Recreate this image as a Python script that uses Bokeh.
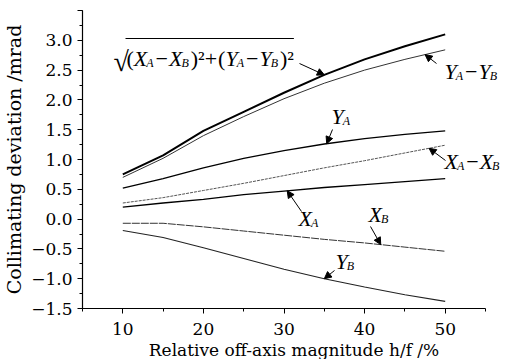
import numpy as np
from bokeh.plotting import figure
from bokeh.models import FixedTicker, Label, Arrow, NormalHead, Range1d, Title
from bokeh.embed import file_html
from bokeh.resources import INLINE

# ---- data ----
h = [10, 15, 20, 25, 30, 35, 40, 45, 50]
total = [0.75, 1.07, 1.48, 1.80, 2.12, 2.42, 2.68, 2.90, 3.10]
ya_yb = [0.70, 1.02, 1.40, 1.72, 2.02, 2.28, 2.50, 2.68, 2.84]
ya = [0.52, 0.68, 0.86, 1.02, 1.15, 1.26, 1.35, 1.42, 1.48]
xa_xb = [0.27, 0.36, 0.48, 0.60, 0.73, 0.86, 0.98, 1.11, 1.24]
xa = [0.20, 0.27, 0.33, 0.41, 0.47, 0.53, 0.58, 0.63, 0.68]
xb = [-0.07, -0.07, -0.13, -0.20, -0.27, -0.34, -0.40, -0.47, -0.54]
yb = [-0.19, -0.31, -0.48, -0.66, -0.84, -1.00, -1.14, -1.27, -1.38]

x_ticks = [10, 20, 30, 40, 50]
y_ticks = [-1.5, -1.0, -0.5, 0.0, 0.5, 1.0, 1.5, 2.0, 2.5, 3.0, 3.5]
y_tick_labels = ["\u22121.5", "\u22121.0", "\u22120.5", "0.0", "0.5", "1.0", "1.5",
                 "2.0", "2.5", "3.0", ""]
x_title = "Relative off-axis magnitude h/f /%"
y_title = "Collimating deviation /mrad"

PXU = 403 / 50.0          # pixels per x unit
XMIN, XAXMAX, YMIN, YMAX = 5, 55, -1.5, 3.5
FW, FH = 423, 298
XMAX = XMIN + FW / PXU
BL, BT, BB = 79, 10, 50
OX, OY = 84, 10           # page position of the frame's top-left corner
TXT_DY = -9               # empirical baseline correction for labels

p = figure(width=BL + FW, height=BT + FH + BB, output_backend="svg",
           toolbar_location=None, x_range=Range1d(XMIN, XMAX),
           y_range=Range1d(YMIN, YMAX), frame_width=FW, frame_height=FH,
           min_border_left=BL, min_border_right=0, min_border_top=BT,
           min_border_bottom=BB)
p.outline_line_color = None
p.grid.visible = False

SERIF = "DejaVu Serif"
for ax in (p.xaxis[0], p.yaxis[0]):
    ax.axis_line_color = "black"
    ax.axis_line_width = 1.2
    ax.major_tick_out = 5
    ax.major_tick_in = 0
    ax.minor_tick_out = 3
    ax.minor_tick_in = 0
    ax.major_label_text_font = SERIF
    ax.major_label_text_font_size = "17px"
    ax.major_label_text_color = "black"
    ax.axis_label_text_font = SERIF
    ax.axis_label_text_font_style = "normal"
    ax.axis_label_text_color = "black"

p.xaxis.bounds = (XMIN, XAXMAX)
p.xaxis.ticker = FixedTicker(ticks=x_ticks, minor_ticks=list(np.arange(5, 56, 5)))
p.yaxis.ticker = FixedTicker(ticks=y_ticks, minor_ticks=list(np.arange(-1.5, 3.51, 0.25)))
p.yaxis.major_label_overrides = {t: l for t, l in zip(y_ticks, y_tick_labels)}
p.yaxis.axis_label = y_title
p.yaxis.axis_label_text_font_size = "19px"
p.xaxis.major_label_standoff = 9
p.yaxis.major_label_standoff = 5
p.yaxis.axis_label_standoff = 3

# x-axis title centred under the drawn axis (5..55), not under the wider frame
p.add_layout(Title(text=x_title, align="center", offset=-10, standoff=0,
                   text_font=SERIF, text_font_size="17px",
                   text_font_style="normal", text_color="black"), "below")

p.line(h, total, line_color="black", line_width=2)
p.line(h, ya_yb, line_color="#333333", line_width=1)
p.line(h, ya, line_color="black", line_width=1.3)
p.line(h, xa_xb, line_color="#555555", line_width=1, line_dash="3 1")
p.line(h, xa, line_color="black", line_width=1.3)
p.line(h, xb, line_color="#333333", line_width=1, line_dash="8 1")
p.line(h, yb, line_color="#222222", line_width=1.1)


# ---- annotations (positions given in page pixels, converted) ----
def d(px, py):
    return (XMIN + (px - OX) / PXU,
            YMAX - (py - OY) * (YMAX - YMIN) / FH)


IT = "Liberation Serif"
MAIN, SUB = 22, 12
W = {"X": 0.611, "Y": 0.556, "(": 0.333, ")": 0.333, "\u2212": 0.564,
     "+": 0.564, "\u00b2": 0.30, "A": 0.611, "B": 0.611, "\u221a": 0.549}


def put(text, px, py, size, italic):
    x, y = d(px, py + TXT_DY)
    p.add_layout(Label(x=x, y=y, text=text, text_font=IT,
                       text_font_size=f"{size}px",
                       text_font_style="italic" if italic else "normal",
                       text_color="black", text_baseline="alphabetic",
                       text_align="left"))


def expr(tokens, px, py):
    cx = px
    for kind, t in tokens:
        if kind == "v":
            put(t, cx, py, MAIN, True)
            cx += W[t] * MAIN
        elif kind == "s":
            put(t, cx - 1, py + 4, SUB, True)
            cx += W[t] * SUB + 1
        else:
            put(t, cx, py, MAIN, False)
            cx += W[t] * MAIN + (1 if t in "\u2212+" else 0)
    return cx


def arrow(sx, sy, tip_x, series):
    x0, y0 = d(sx, sy)
    p.add_layout(Arrow(x_start=x0, y_start=y0, x_end=tip_x,
                       y_end=float(np.interp(tip_x, h, series)),
                       line_color="black", line_width=1,
                       end=NormalHead(size=7, line_color="black",
                                      fill_color="black", line_width=1)))


sq = [("o", "("), ("v", "X"), ("s", "A"), ("o", "\u2212"), ("v", "X"), ("s", "B"),
      ("o", ")"), ("o", "\u00b2"), ("o", "+"), ("o", "("), ("v", "Y"), ("s", "A"),
      ("o", "\u2212"), ("v", "Y"), ("s", "B"), ("o", ")"), ("o", "\u00b2")]
put("\u221a", 115, 70, 28, False)
end = expr(sq, 128, 67)
ox0, oy = d(127, 38)
ox1, _ = d(end, 38)
p.segment(x0=[ox0], y0=[oy], x1=[ox1], y1=[oy], line_color="black", line_width=1)
arrow(301, 63, 35.0, total)

expr([("v", "Y"), ("s", "A"), ("o", "\u2212"), ("v", "Y"), ("s", "B")], 446, 80)
arrow(438, 63, 47.5, ya_yb)

expr([("v", "Y"), ("s", "A")], 333, 125)
arrow(334, 129, 35.3, ya)

expr([("v", "X"), ("s", "A")], 300, 227)
arrow(303, 211, 30.4, xa)

expr([("v", "X"), ("s", "A"), ("o", "\u2212"), ("v", "X"), ("s", "B")], 446, 170)
arrow(447, 160, 48.0, xa_xb)

expr([("v", "X"), ("s", "B")], 370, 223)
arrow(372, 226, 42.0, xb)

expr([("v", "Y"), ("s", "B")], 337, 270)
arrow(336, 270, 35.0, yb)

open("out.html", "w").write(file_html(p, INLINE))
